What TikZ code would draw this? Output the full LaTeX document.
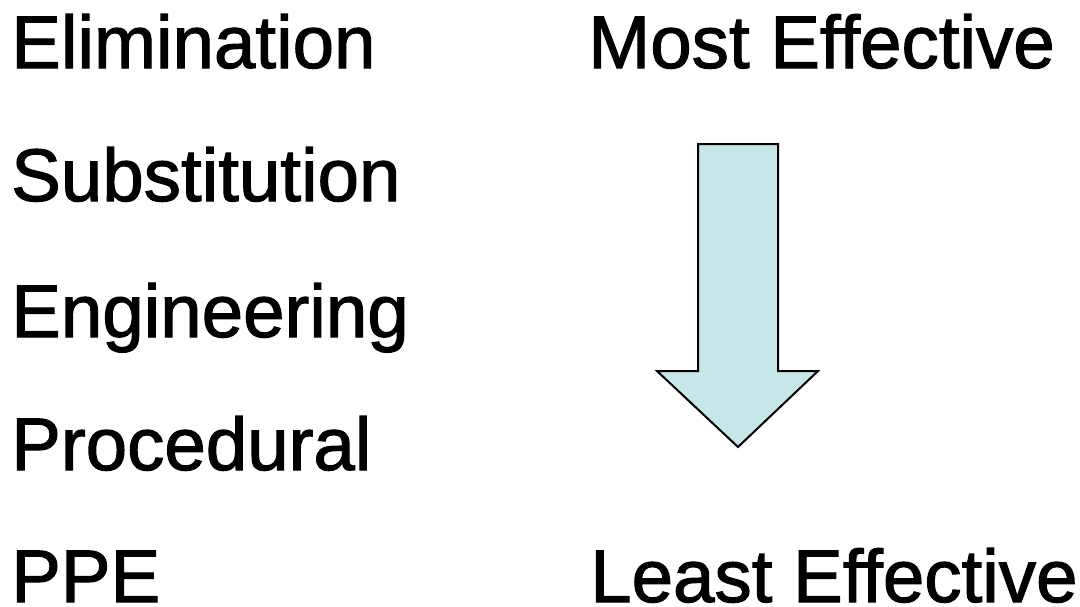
\documentclass[tikz,border=0pt]{standalone}
\usepackage{fontspec}
\setmainfont{Liberation Sans}
\newfontfamily\heavysans[FakeBold=1.5]{Liberation Sans}
\definecolor{arrowfill}{RGB}{198,230,232}
\begin{document}
\begin{tikzpicture}[x=1pt,y=-1pt,
  lbl/.style={anchor=base west,inner sep=0pt,text depth=0pt,font=\heavysans\fontsize{74.5}{90}\selectfont},
  bigarrow/.style={draw=black,line width=2pt,fill=arrowfill,line join=miter}]
\useasboundingbox (0,0) rectangle (1080,606);
\node[lbl] (elim) at (11,68) {Elimination};
\node[lbl] (subst) at (11,201) {Substitution};
\node[lbl] (eng) at (11,337) {Engineering};
\node[lbl] (proc) at (11,470) {Procedural};
\node[lbl] (ppe) at (11,602) {PPE};
\node[lbl] (most) at (588,68) {Most Effective};
\node[lbl] (least) at (590,602) {Least Effective};
\draw[bigarrow] (698,144) -- (778,144) -- (778,371) -- (818,371) -- (738,447)
  -- (657,371) -- (698,371) -- cycle;
\end{tikzpicture}
\end{document}
